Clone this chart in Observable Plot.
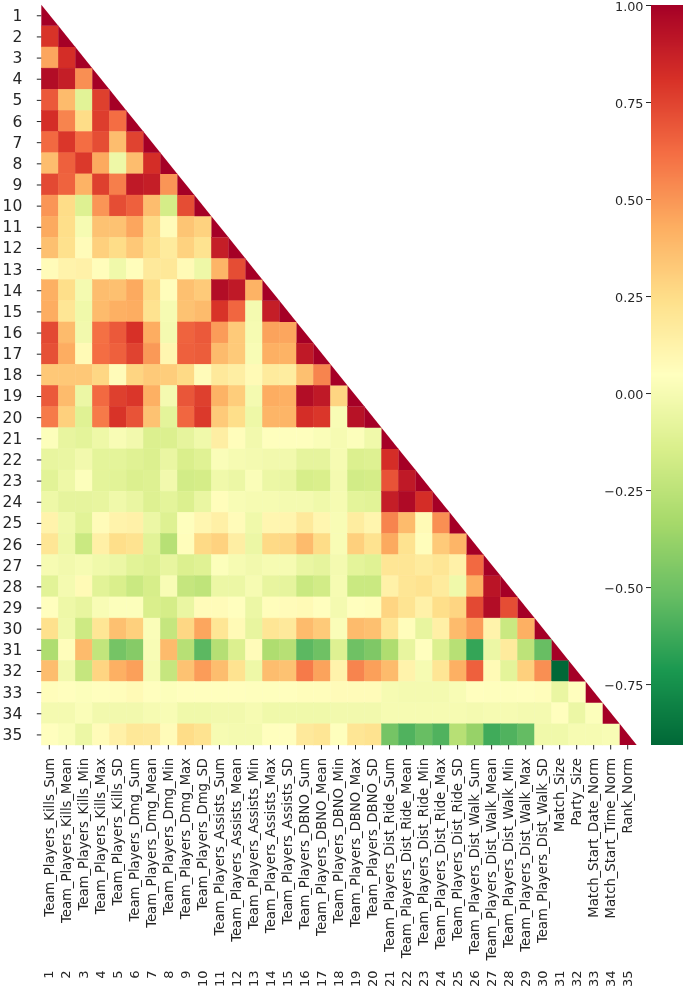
<!DOCTYPE html>
<html><head><meta charset="utf-8">
<script src="https://cdn.jsdelivr.net/npm/d3@7"></script>
<script src="https://cdn.jsdelivr.net/npm/@observablehq/plot@0.6"></script>
<style>
html,body{margin:0;padding:0;background:#fff}
#wrap{position:relative;width:685px;height:988px;overflow:hidden}
#wrap svg{position:absolute;top:0;left:0;background:transparent;color:#262626;filter:blur(0.45px)}
</style></head><body><div id="wrap"></div>
<script>
const names = ["Team_Players_Kills_Sum","Team_Players_Kills_Mean","Team_Players_Kills_Min","Team_Players_Kills_Max","Team_Players_Kills_SD","Team_Players_Dmg_Sum","Team_Players_Dmg_Mean","Team_Players_Dmg_Min","Team_Players_Dmg_Max","Team_Players_Dmg_SD","Team_Players_Assists_Sum","Team_Players_Assists_Mean","Team_Players_Assists_Min","Team_Players_Assists_Max","Team_Players_Assists_SD","Team_Players_DBNO_Sum","Team_Players_DBNO_Mean","Team_Players_DBNO_Min","Team_Players_DBNO_Max","Team_Players_DBNO_SD","Team_Players_Dist_Ride_Sum","Team_Players_Dist_Ride_Mean","Team_Players_Dist_Ride_Min","Team_Players_Dist_Ride_Max","Team_Players_Dist_Ride_SD","Team_Players_Dist_Walk_Sum","Team_Players_Dist_Walk_Mean","Team_Players_Dist_Walk_Min","Team_Players_Dist_Walk_Max","Team_Players_Dist_Walk_SD","Match_Size","Party_Size","Match_Start_Date_Norm","Match_Start_Time_Norm","Rank_Norm"];
const corr = [
[1],
[.8,1],
[.45,.82,1],
[.95,.88,.52,1],
[.68,.38,-.1,.76,1],
[.82,.55,.25,.77,.62,1],
[.63,.79,.62,.72,.37,.75,1],
[.37,.66,.78,.44,-.04,.37,.82,1],
[.73,.65,.41,.76,.57,.9,.88,.5,1],
[.5,.25,-.12,.5,.72,.66,.37,-.16,.72,1],
[.44,.24,0,.35,.35,.45,.26,.07,.34,.29,1],
[.36,.23,.07,.3,.25,.33,.24,.17,.29,.22,.88,1],
[.07,.12,.13,.06,-.03,.06,.18,.19,.08,-.04,.4,.72,1],
[.42,.24,-.01,.37,.36,.44,.25,.06,.36,.32,.95,.9,.41,1],
[.43,.2,-.03,.38,.42,.43,.22,0,.35,.38,.8,.64,-.01,.88,1],
[.73,.38,-.02,.61,.68,.81,.43,-.01,.65,.68,.48,.32,0,.46,.45,1],
[.71,.43,.08,.62,.66,.75,.49,.1,.66,.67,.38,.32,.01,.42,.41,.9,1],
[.33,.33,.33,.27,.07,.28,.32,.31,.26,.07,.18,.15,.08,.17,.16,.36,.55,1],
[.68,.38,-.05,.63,.76,.79,.42,-.01,.69,.76,.41,.31,-.01,.43,.42,.95,.9,.28,1],
[.58,.3,-.11,.58,.8,.7,.35,-.09,.64,.78,.32,.24,-.04,.4,.4,.82,.79,.01,.93,1],
[.03,-.07,-.09,-.04,.01,-.02,-.13,-.13,-.08,-.03,.15,.06,-.02,.04,.04,.04,.02,0,.03,-.03,1],
[-.07,-.06,-.02,-.09,-.09,-.11,-.13,-.06,-.14,-.11,.02,0,-.01,-.02,-.02,-.08,-.08,0,-.13,-.12,.82,1],
[-.1,-.04,.03,-.09,-.1,-.13,-.12,-.02,-.17,-.16,-.03,-.05,.02,-.05,-.06,-.15,-.14,-.01,-.17,-.16,.7,.9,1],
[-.04,-.08,-.08,-.07,-.03,-.06,-.12,-.09,-.13,-.06,.06,.01,0,0,-.01,-.01,-.03,0,-.09,-.1,.88,.96,.82,1],
[.12,-.03,-.1,.07,.12,.13,-.05,-.12,.04,.1,.14,.07,-.03,.1,.11,.18,.1,.01,.16,.11,.55,.38,.08,.52,1],
[.2,-.04,-.2,.14,.24,.22,-.1,-.27,.06,.26,.29,.15,-.05,.26,.27,.38,.25,.01,.3,.22,.44,.22,.06,.32,.4,1],
[0,-.02,0,-.03,-.05,-.1,-.12,-.07,-.13,-.11,.03,0,-.02,0,0,-.06,-.08,-.01,-.09,-.11,.2,.2,.17,.2,.13,.63,1],
[-.1,-.01,.08,-.1,-.14,-.2,-.15,.01,-.22,-.24,-.05,-.05,0,-.07,-.08,-.2,-.17,0,-.2,-.2,.13,.2,.22,.17,-.03,.42,.92,1],
[.05,-.04,-.07,.01,.03,.03,-.14,-.16,-.06,.07,.07,.05,-.05,.06,.07,.08,.05,-.01,.05,.06,.28,.21,.13,.24,.28,.73,.95,.72,1],
[.23,-.03,-.19,.2,.36,.3,.02,-.22,.27,.45,.2,.08,-.07,.2,.18,.38,.32,.02,.38,.36,.2,.06,-.07,.14,.38,.48,.12,-.2,.42,1],
[-.3,.06,.38,-.23,-.48,-.43,.01,.38,-.27,-.55,-.28,-.13,.07,-.3,-.27,-.55,-.5,-.12,-.5,-.45,-.3,-.07,.05,-.13,-.27,-.65,-.05,.17,-.25,-.52,1],
[.37,-.02,-.22,.28,.42,.47,0,-.22,.35,.48,.37,.22,-.04,.37,.35,.58,.46,.12,.55,.47,.38,.12,0,.2,.42,.66,.08,-.09,.3,.52,-.907,1],
[.06,.05,.03,.05,.06,.08,.05,.03,.05,.05,.05,.05,.04,.04,.05,.06,.06,.07,.07,.07,0,-.01,-.01,-.01,.01,.05,.04,.04,.05,.06,-.06,.05,1],
[-.01,-.01,.02,-.02,-.02,-.02,0,.01,-.03,-.03,-.02,-.02,0,-.03,-.03,-.03,-.03,-.02,-.02,-.02,0,0,0,0,0,-.01,0,0,-.01,-.01,.05,-.05,.03,1],
[.05,.02,-.05,.07,.13,.19,.18,.07,.25,.22,0,-.01,-.01,.05,.05,.18,.2,.04,.2,.22,-.48,-.58,-.52,-.58,-.27,-.38,-.62,-.58,-.53,-.03,-.03,0,0,.01,1]
];
const colorBarTicks = [-.75,-.5,-.25,0,.25,.5,.75,1];
const colorMin = -0.907, colorMax = 1;
const brewer = ["#006837","#1a9850","#66bd63","#a6d96a","#d9ef8b","#ffffbf","#fee08b","#fdae61","#f46d43","#d73027","#a50026"];
const color = {type:"linear", domain: brewer.map((_,i)=>colorMin+(colorMax-colorMin)*i/10), range: brewer, interpolate:"rgb", clamp:true};

const offDiag = corr.flatMap((row,r)=>row.slice(0,r).map((v,c)=>({r,c,v})));
const diag = corr.flatMap((row,r)=>[
  {i:r,x:r,y1:r+1,y2:r,v:row[r]},
  {i:r,x:r+1,y1:r+1,y2:r+1,v:row[r]}
]);
const centers = names.map((_,i)=>i+.5);
const font = "DejaVu Sans, sans-serif";

const main = Plot.plot({
  width:685,height:988,
  marginLeft:41.3,marginRight:48.3,marginTop:4.7,marginBottom:243,
  style:{background:"transparent",fontFamily:font},
  x:{type:"linear",domain:[0,35]},
  y:{type:"linear",domain:[0,35],reverse:true},
  color,
  marks:[
    Plot.rect(offDiag,{x1:"c",x2:d=>d.c+1,y1:"r",y2:d=>d.r+1,fill:"v",stroke:"v",strokeWidth:0.5}),
    Plot.areaY(diag,{x:"x",y1:"y1",y2:"y2",z:"i",fill:"v"}),
    Plot.axisY({ticks:centers,tickFormat:d=>String(d+.5),tickSize:4.5,tickPadding:15,fontSize:15.5,label:null,stroke:"#262626"}),
    Plot.axisX({ticks:centers,tickFormat:d=>names[d-.5],tickSize:4.5,tickPadding:8,tickRotate:-90,fontSize:13.2,dx:-1,label:null,stroke:"#262626"}),
    Plot.axisX({ticks:centers,tickFormat:d=>String(d+.5),tickSize:0,tickPadding:225,tickRotate:-90,fontSize:13,dx:-1,label:null})
  ]
});

const bands = d3.range(colorMin,colorMax,0.0025);
const bar = Plot.plot({
  width:685,height:988,
  marginLeft:651,marginRight:2,marginTop:5,marginBottom:243,
  style:{background:"transparent",fontFamily:font},
  x:{type:"linear",domain:[0,1],axis:null},
  y:{type:"linear",domain:[colorMin,colorMax]},
  color,
  marks:[
    Plot.rect(bands,{x1:0,x2:1,y1:d=>d,y2:d=>d+0.0025,fill:d=>d+0.00125,shapeRendering:"crispEdges"}),
    Plot.axisY({ticks:colorBarTicks,tickSize:5,tickFormat:()=>null}),
    Plot.axisY({ticks:colorBarTicks,tickFormat:d=>d3.format(".2f")(d).replace("-","\u2212"),tickSize:0,tickPadding:8,fontSize:12.8,dy:1.5,label:null})
  ]
});
const wrap = document.getElementById("wrap");
wrap.append(main,bar);
</script></body></html>
